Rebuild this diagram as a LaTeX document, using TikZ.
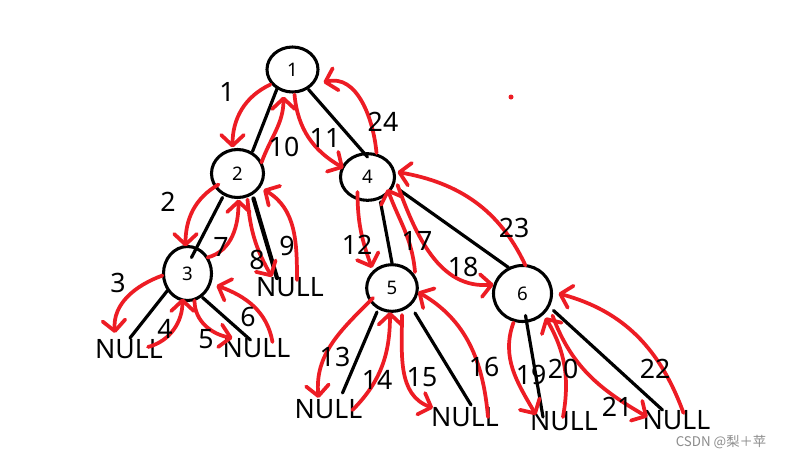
\documentclass[tikz,border=0pt]{standalone}
\usepackage{fontspec}
\setmainfont{Noto Sans}
\newfontfamily\cjk{Noto Sans CJK SC}
\usetikzlibrary{shapes.geometric,arrows.meta,calc}
\definecolor{pen}{HTML}{ED1C24}
\begin{document}
\begin{tikzpicture}[x=0.75pt,y=0.75pt,
  tn/.style={draw, ellipse, line width=2.3pt, inner sep=0pt, font=\fontsize{14}{14}\selectfont},
  blk/.style={line width=2.4pt, line cap=round},
  nul/.style={inner sep=0pt, font=\fontsize{20}{20}\selectfont},
  lab/.style={inner sep=0pt, font=\fontsize{20}{20}\selectfont},
  trav/.style={draw=pen, line width=2.8pt, line cap=round, -{Straight Barb[length=8pt,width=17pt,round]}}]
\fill[white] (0,0) rectangle (786,-457);
\useasboundingbox (0,0) rectangle (786,-457);
% tree nodes
\node[tn, minimum width=38.25pt, minimum height=33.75pt] (n1) at (292.5,-69.5) {1};
\node[tn, minimum width=39pt, minimum height=36pt] (n2) at (237.5,-173.5) {2};
\node[tn, minimum width=40.5pt, minimum height=35pt] (n4) at (367.5,-177) {4};
\node[tn, minimum width=36pt, minimum height=40.5pt] (n3) at (187.5,-273.5) {3};
\node[tn, minimum width=38pt, minimum height=35pt] (n5) at (392,-288) {5};
\node[tn, minimum width=43.5pt, minimum height=42pt] (n6) at (522.5,-293.5) {6};
% NULL leaves
\node[nul] (a) at (290,-287) {NULL};
\node[nul] (b) at (129,-349) {NULL};
\node[nul] (c) at (256.5,-348) {NULL};
\node[nul] (d) at (328.5,-409) {NULL};
\node[nul] (e) at (465,-417) {NULL};
\node[nul] (f) at (564,-421) {NULL};
\node[nul] (g) at (676.5,-420) {NULL};
% black edges
\draw[blk] ($(n1)+(-15,-18)$) -- ($(n2)+(15,22)$);
\draw[blk] ($(n1)+(16,-20)$) -- ($(n4)+(0,20)$);
\draw[blk] ($(n2)+(-15,-24)$) -- ($(n3)+(4,16)$);
\draw[blk, line width=3.2pt] ($(n2)+(16,-25)$) -- ($(a)+(-13,9)$);
\draw[blk] ($(n3)+(-20,-17)$) -- ($(b)+(1,11)$);
\draw[blk] ($(n3)+(15,-24)$) -- ($(c)+(-6,8)$);
\draw[blk] ($(n4)+(13,-25)$) -- ($(n5)+(0,25)$);
\draw[blk] ($(n4)+(32,-13)$) -- ($(n6)+(-14,26)$);
\draw[blk] ($(n5)+(-15,-24)$) -- ($(d)+(14,16)$);
\draw[blk] ($(n5)+(23,-25)$) -- ($(e)+(6,12)$);
\draw[blk] ($(n6)+(3,-22)$) -- ($(f)+(-21,4)$);
\draw[blk] ($(n6)+(31,-17)$) -- ($(g)+(-14,10)$);
% traversal arrows
\draw[trav] ($(n1)+(-22,-15)$) to[out=205,in=90] ($(n2)+(-5,26)$);
\draw[trav] ($(n2)+(-19,-11)$) to[out=210,in=90] ($(n3)+(-2,27)$);
\draw[trav] ($(n3)+(-25,-2)$) to[out=200,in=95] ($(b)+(-14,16)$);
\draw[trav] ($(b)+(19,2)$) to[out=15,in=270] ($(n3)+(-5,-25)$);
\draw[trav] ($(n3)+(7,-27)$) to[out=270,in=170] ($(c)+(-24,10)$);
\draw[trav] ($(c)+(16,6)$) to[out=100,in=340] ($(n3)+(29,-12)$);
\draw[trav] ($(n3)+(20,16)$) to[out=15,in=270] ($(n2)+(1,-26)$);
\draw[trav] ($(n2)+(10,-26)$) to[out=275,in=120] ($(a)+(-18,10)$);
\draw[trav] ($(a)+(7,7)$) to[out=90,in=330] ($(n2)+(26,-16)$);
\draw[trav] ($(n2)+(24,11)$) to[out=70,in=270] ($(n1)+(-9,-27)$);
\draw[trav] ($(n1)+(2,-25)$) to[out=275,in=150] ($(n4)+(-24,9)$);
\draw[trav] ($(n4)+(-10,-15)$) to[out=270,in=110] ($(n5)+(-20,20)$);
\draw[trav] ($(n5)+(-19,-10)$) to[out=225,in=95] ($(d)+(-10,11)$);
\draw[trav] ($(d)+(24,-1)$) to[out=45,in=270] ($(n5)+(-2,-24)$);
\draw[trav] ($(n5)+(10,-27)$) to[out=270,in=160] ($(e)+(-32,9)$);
\draw[trav] ($(e)+(23,0)$) to[out=95,in=330] ($(n5)+(26,-4)$);
\draw[trav] ($(n5)+(23,16)$) to[out=95,in=290] ($(n4)+(20,-12)$);
\draw[trav] ($(n4)+(30,-8)$) to[out=290,in=185] ($(n6)+(-29,9)$);
\draw[trav] ($(n6)+(-9,-29)$) to[out=250,in=120] ($(f)+(-28,6)$);
\draw[trav] ($(f)+(-1,4)$) to[out=80,in=300] ($(n6)+(23,-24)$);
\draw[trav] ($(n6)+(30,-22)$) to[out=290,in=150] ($(g)+(-29,3)$);
\draw[trav] ($(g)+(7,7)$) to[out=110,in=345] ($(n6)+(36,0)$);
\draw[trav] ($(n6)+(3,28)$) to[out=115,in=350] ($(n4)+(30,5)$);
\draw[trav] ($(n4)+(9,24)$) to[out=95,in=15] ($(n1)+(31,-13)$);
\fill[pen] (511,-97) circle (2.5);
% step labels
\node[lab] (l1) at (227,-92) {1};
\node[lab] (l2) at (168,-202) {2};
\node[lab] (l3) at (118,-283) {3};
\node[lab] (l4) at (165,-329) {4};
\node[lab] (l5) at (206,-339) {5};
\node[lab] (l6) at (248,-317) {6};
\node[lab] (l7) at (221,-247) {7};
\node[lab] (l8) at (257,-260) {8};
\node[lab] (l9) at (287,-246) {9};
\node[lab] (l10) at (284,-147) {10};
\node[lab] (l11) at (325,-138) {11};
\node[lab] (l12) at (357,-245) {12};
\node[lab] (l13) at (335,-357) {13};
\node[lab] (l14) at (377,-380) {14};
\node[lab] (l15) at (422,-377) {15};
\node[lab] (l16) at (484,-367) {16};
\node[lab] (l17) at (417,-241) {17};
\node[lab] (l18) at (463,-267) {18};
\node[lab] (l19) at (531,-375) {19};
\node[lab] (l20) at (563,-369) {20};
\node[lab] (l21) at (617,-407) {21};
\node[lab] (l22) at (655,-369) {22};
\node[lab] (l23) at (514,-228) {23};
\node[lab] (l24) at (383,-122) {24};
% watermark
\node[inner sep=0pt, text=black!45, font=\cjk\fontsize{10}{10}\selectfont] (wm) at (721,-442.5) {CSDN @梨＋苹};
\end{tikzpicture}
\end{document}
